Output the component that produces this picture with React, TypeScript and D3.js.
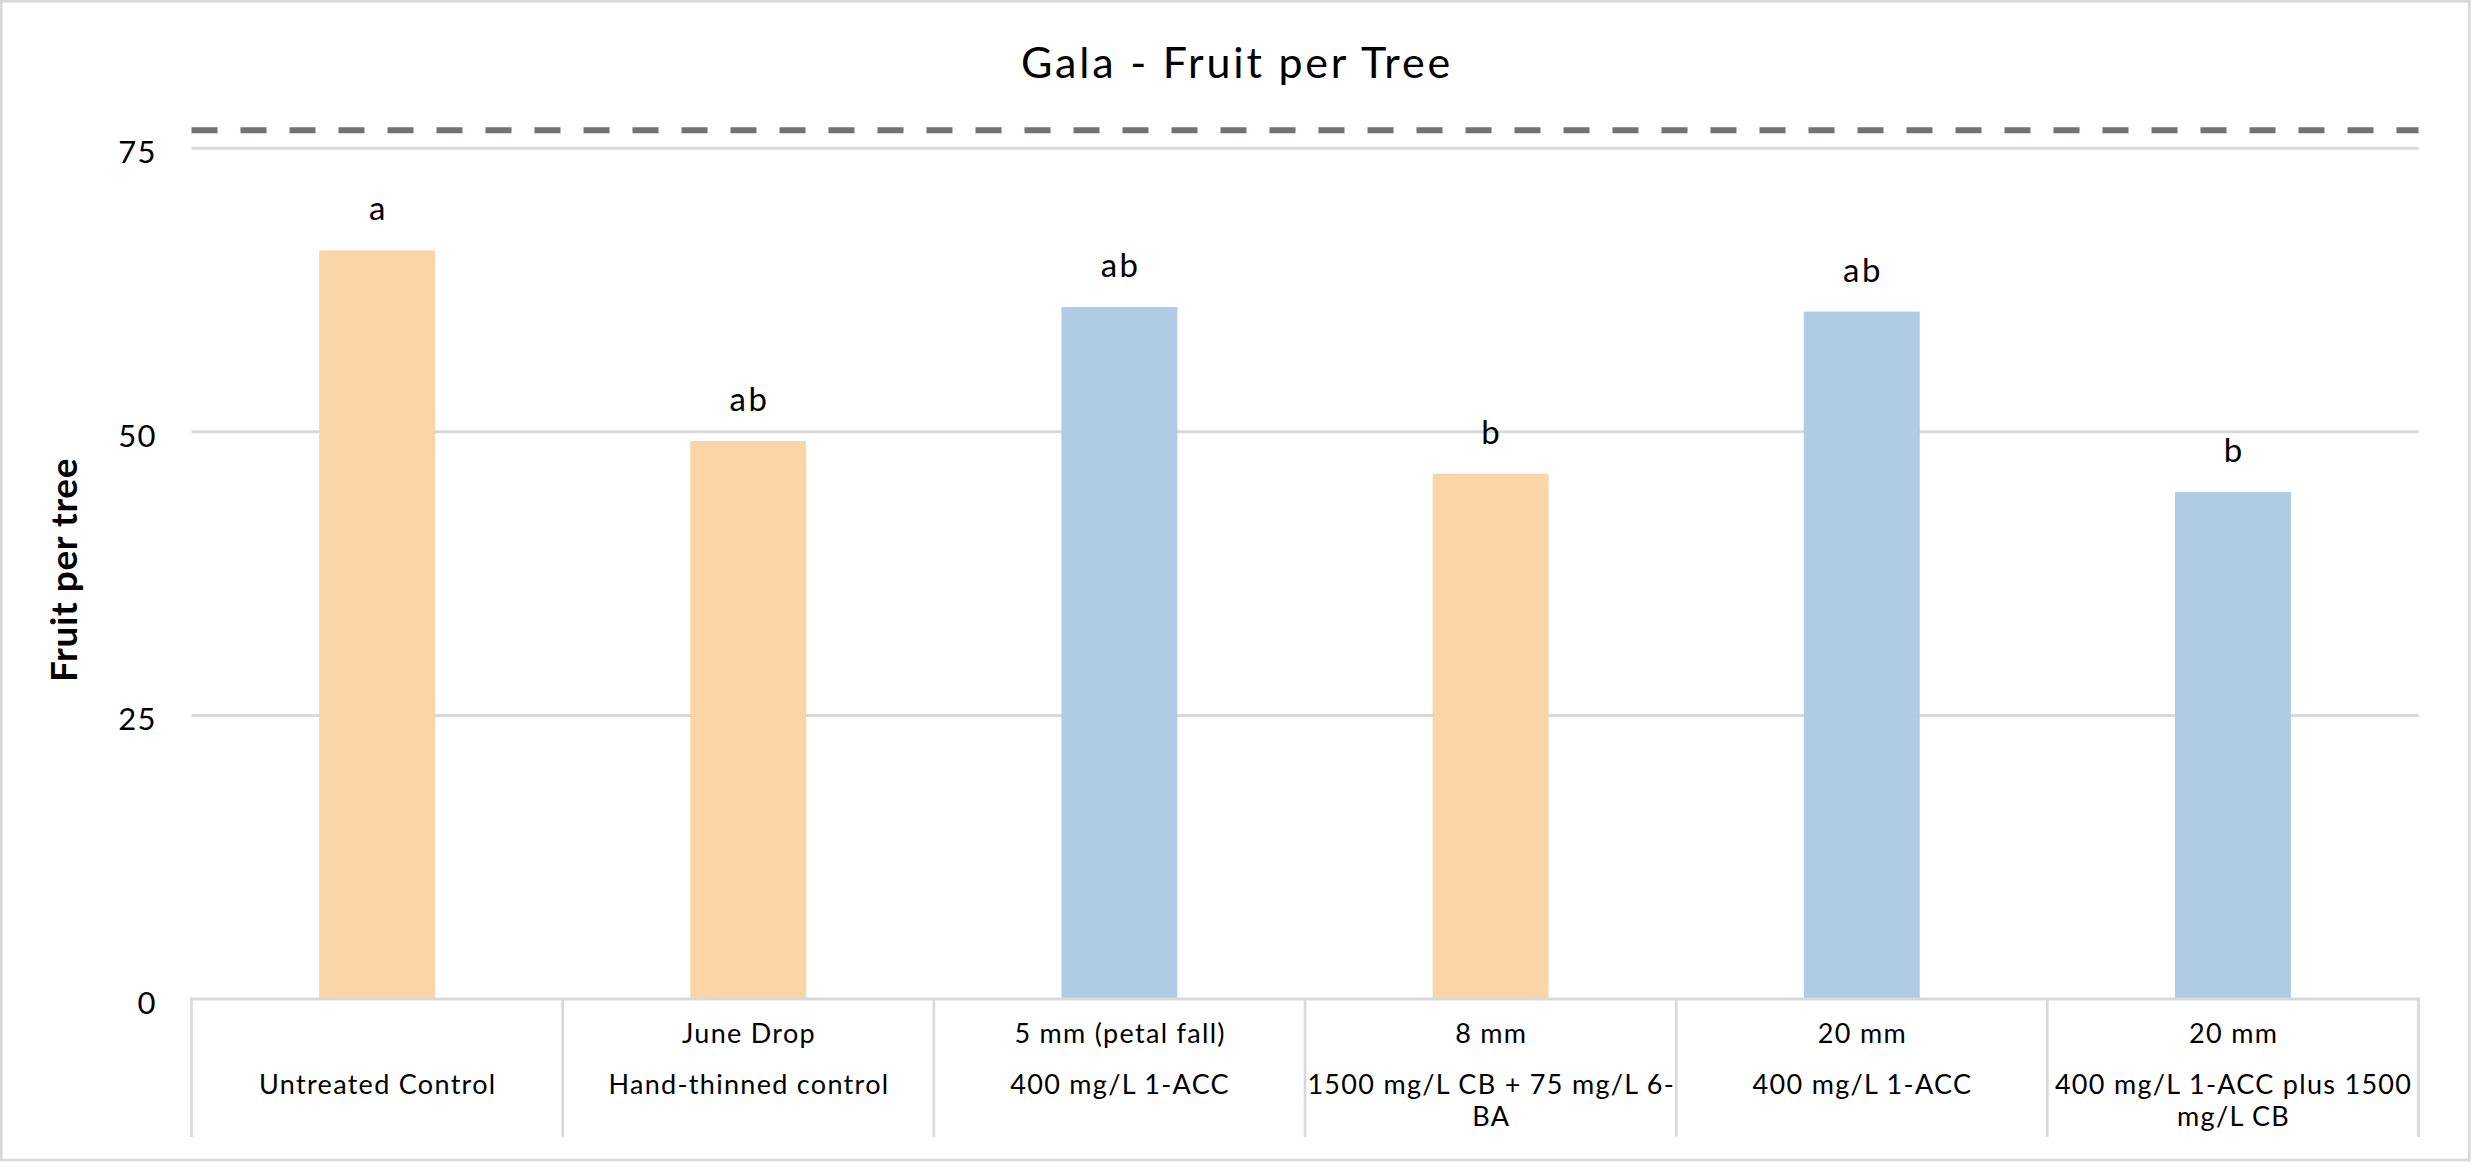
import React from "react";
import * as d3 from "d3";

const title = "Gala - Fruit per Tree";
const yAxisTitle = "Fruit per tree";
const timingLabels = ["", "June Drop", "5 mm (petal fall)", "8 mm", "20 mm", "20 mm"];
const treatmentLabels = [
  ["Untreated Control"],
  ["Hand-thinned control"],
  ["400 mg/L 1-ACC"],
  ["1500 mg/L CB + 75 mg/L 6-", "BA"],
  ["400 mg/L 1-ACC"],
  ["400 mg/L 1-ACC plus 1500", "mg/L CB"],
];
const fruitPerTree = [66.0, 49.2, 61.0, 46.3, 60.6, 44.7];
const significance = ["a", "ab", "ab", "b", "ab", "b"];
const usesACC = [false, false, true, false, true, true];
const yTicks = [0, 25, 50, 75];
const referenceLevel = 76.6;

const W = 2472;
const H = 1168;
const plotLeft = 191.5;
const plotRight = 2418.5;
const yZero = 999;
const yTop75 = 148.3;

const ORANGE = "#FBD5A7";
const BLUE = "#AFCCE4";
const GRID = "#D9D9D9";
const FONT = "Lato, 'Open Sans', sans-serif";

export default function App() {
  const idx = fruitPerTree.map((_, i) => i);
  const x = d3.scaleBand<number>().domain(idx).range([plotLeft, plotRight]).padding(0);
  const y = d3.scaleLinear().domain([0, 75]).range([yZero, yTop75]);
  const bw = x.bandwidth();
  const barW = bw / 3.2;
  const dividerBottom = 1137;

  return (
    <svg
      width={W}
      height={H}
      viewBox={`0 0 ${W} ${H}`}
      style={{ position: "absolute", left: 0, top: 0, background: "#fff" }}
    >
      <rect x={0} y={0} width={W} height={H} fill="#fff" />
      <rect x={1.3} y={1.3} width={2468} height={1158.7} fill="none" stroke={GRID} strokeWidth={2.7} />

      <text
        x={1237}
        y={78.3}
        textAnchor="middle"
        fontFamily={FONT}
        fontSize={43}
        letterSpacing={2.8}
        fill="#000"
      >
        {title}
      </text>

      {yTicks.filter((t) => t > 0).map((t) => (
        <line key={"g" + t} x1={plotLeft} x2={plotRight} y1={y(t)} y2={y(t)} stroke={GRID} strokeWidth={3} />
      ))}

      {yTicks.map((t) => (
        <text
          key={"t" + t}
          x={157}
          y={y(t) + 15}
          textAnchor="end"
          fontFamily={FONT}
          fontSize={31}
          letterSpacing={1.4}
          fill="#000"
        >
          {t}
        </text>
      ))}

      <text
        transform={`translate(76.5,570) rotate(-90)`}
        textAnchor="middle"
        fontFamily={FONT}
        fontWeight={700}
        fontSize={37}
        letterSpacing={0.6}
        fill="#000"
      >
        {yAxisTitle}
      </text>

      {idx.map((i) => (
        <rect
          key={"b" + i}
          x={(x(i) as number) + (bw - barW) / 2}
          y={y(fruitPerTree[i])}
          width={barW}
          height={y(0) - y(fruitPerTree[i])}
          fill={usesACC[i] ? BLUE : ORANGE}
        />
      ))}

      {idx.map((i) => (
        <text
          key={"s" + i}
          x={(x(i) as number) + bw / 2 + 1.2}
          y={y(fruitPerTree[i]) - 30}
          textAnchor="middle"
          fontFamily={FONT}
          fontSize={33}
          letterSpacing={2.4}
          fill="#000"
        >
          {significance[i]}
        </text>
      ))}

      <line
        x1={plotLeft}
        x2={plotRight}
        y1={y(referenceLevel)}
        y2={y(referenceLevel)}
        stroke="#767171"
        strokeWidth={6}
        strokeDasharray="26,23"
      />

      <line x1={plotLeft - 1.5} x2={plotRight + 1.5} y1={y(0)} y2={y(0)} stroke={GRID} strokeWidth={3} />
      {[...idx, idx.length].map((i) => {
        const xx = i < idx.length ? (x(i) as number) : plotRight;
        return <line key={"d" + i} x1={xx} x2={xx} y1={y(0)} y2={dividerBottom} stroke={GRID} strokeWidth={2.7} />;
      })}

      {idx.map((i) => (
        <text
          key={"top" + i}
          x={(x(i) as number) + bw / 2 + 0.7}
          y={1042.7}
          textAnchor="middle"
          fontFamily={FONT}
          fontSize={27}
          letterSpacing={1.3}
          fill="#000"
        >
          {timingLabels[i]}
        </text>
      ))}

      {idx.map((i) =>
        treatmentLabels[i].map((line, j) => (
          <text
            key={"bot" + i + "-" + j}
            x={(x(i) as number) + bw / 2 + 0.7}
            y={1094 + j * 32}
            textAnchor="middle"
            fontFamily={FONT}
            fontSize={27}
            letterSpacing={1.3}
            fill="#000"
          >
            {line}
          </text>
        ))
      )}
    </svg>
  );
}
